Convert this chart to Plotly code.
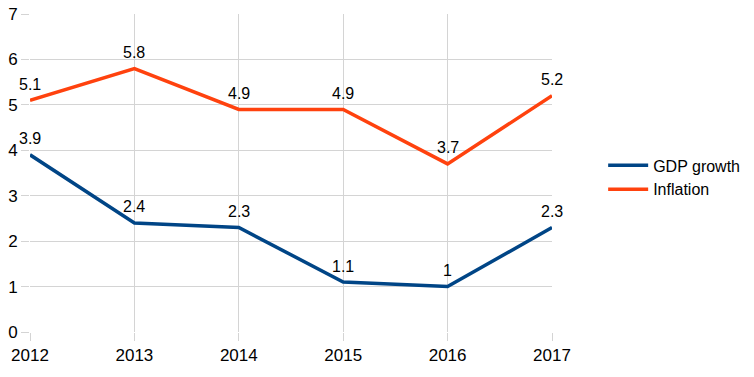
import plotly.graph_objects as go

years = [2012, 2013, 2014, 2015, 2016, 2017]
gdp_growth = [3.9, 2.4, 2.3, 1.1, 1.0, 2.3]
inflation = [5.1, 5.8, 4.9, 4.9, 3.7, 5.2]
gdp_labels = ["3.9", "2.4", "2.3", "1.1", "1", "2.3"]
inf_labels = ["5.1", "5.8", "4.9", "4.9", "3.7", "5.2"]

FONT = "Liberation Sans, Arial, sans-serif"

fig = go.Figure()
fig.add_trace(go.Scatter(
    x=years, y=gdp_growth, mode="lines", name="GDP growth",
    line=dict(color="#004586", width=3.5),
))
fig.add_trace(go.Scatter(
    x=years, y=inflation, mode="lines", name="Inflation",
    line=dict(color="#ff420e", width=3.5),
))

annotations = []
for xs, ys, labs in [(years, gdp_growth, gdp_labels), (years, inflation, inf_labels)]:
    for xv, yv, lab in zip(xs, ys, labs):
        annotations.append(dict(
            x=xv, y=yv, xref="x", yref="y", text=lab, showarrow=False,
            yanchor="middle", xanchor="center", yshift=16,
            font=dict(family=FONT, size=16, color="#000000"),
        ))

fig.update_layout(
    width=754, height=377,
    margin=dict(l=30, r=202, t=14, b=45, autoexpand=False),
    paper_bgcolor="white", plot_bgcolor="white",
    font=dict(family=FONT, size=17, color="#000000"),
    showlegend=True,
    legend=dict(x=1.098, y=0.486, xanchor="left", yanchor="middle",
                font=dict(family=FONT, size=16, color="#000000"),
                tracegroupgap=0, itemwidth=40, bgcolor="rgba(0,0,0,0)"),
    annotations=annotations,
)
fig.update_xaxes(
    range=[2012, 2017], tickmode="array", tickvals=years,
    ticktext=[str(y) for y in years],
    showgrid=True, gridcolor="#d4d4d4", gridwidth=1,
    ticks="outside", ticklen=8, tickcolor="#d4d4d4",
    showline=False, zeroline=False, tickfont=dict(size=17),
    automargin=False,
)
fig.update_yaxes(
    range=[0, 7], dtick=1, tick0=0,
    showgrid=True, gridcolor="#d4d4d4", gridwidth=1,
    ticks="outside", ticklen=8, tickcolor="#d4d4d4",
    showline=False, zeroline=False, tickfont=dict(size=17),
    automargin=False, ticklabeloverflow="allow",
)

fig.write_html("out.html", config={"displayModeBar": False},
               post_script="document.body.style.margin='0';")
